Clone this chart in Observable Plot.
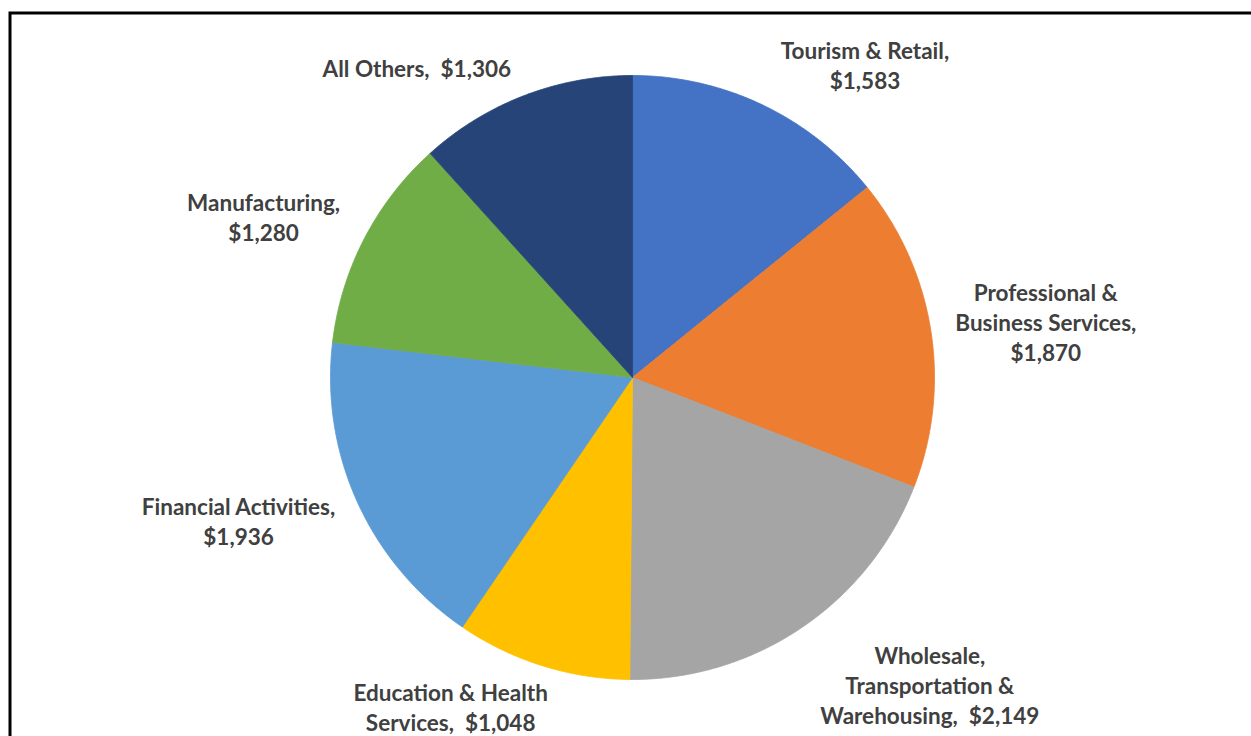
<!DOCTYPE html>
<html><head><meta charset="utf-8">
<script src="https://cdn.jsdelivr.net/npm/d3@7"></script>
<script src="https://cdn.jsdelivr.net/npm/@observablehq/plot@0.6"></script>
<style>
html,body{margin:0;padding:0;background:#fff;overflow:hidden;}
svg text{white-space:pre;}
</style></head>
<body><div id="chart"></div>
<script>
// Data
const categories = ["Tourism & Retail", "Professional & Business Services", "Wholesale, Transportation & Warehousing", "Education & Health Services", "Financial Activities", "Manufacturing", "All Others"];
const values = [1583, 1870, 2149, 1048, 1936, 1280, 1306];
const labelLines = [
  ["Tourism & Retail,", "{v}"],
  ["Professional &", "Business Services,", "{v}"],
  ["Wholesale,", "Transportation &", "Warehousing,  {v}"],
  ["Education & Health", "Services,  {v}"],
  ["Financial Activities,", "{v}"],
  ["Manufacturing,", "{v}"],
  ["All Others,  {v}"]
];
const colors = ["#4472C4", "#ED7D31", "#A5A5A5", "#FFC000", "#5B9BD5", "#70AD47", "#264478"];

// Layout (label placement: angle in degrees clockwise from top, radius factor)
const labelPlacement = [[36.8,1.285],[82.6,1.38],[136.1,1.42],[208.8,1.25],[249.8,1.39],[293.3,1.33],[325,1.245]];
const W = 1251, H = 736, CX = 632, CY = 377, R = 302;

const total = d3.sum(values);
const fmt = d3.format("$,");
const slices = [];
let cum = 0;
categories.forEach((c, i) => {
  const a0 = cum / total * 2 * Math.PI;
  cum += values[i];
  const a1 = cum / total * 2 * Math.PI;
  slices.push({name: c, x: 0, y: 0});
  const n = Math.max(2, Math.ceil((a1 - a0) / (Math.PI / 360)));
  for (let k = 0; k <= n; k++) {
    const a = a0 + (a1 - a0) * k / n;
    slices.push({name: c, x: Math.sin(a), y: Math.cos(a)});
  }
  slices.push({name: c, x: 0, y: 0});
});
const labels = categories.map((c, i) => {
  const [deg, k] = labelPlacement[i];
  const a = deg * Math.PI / 180;
  return {
    name: c,
    x: k * Math.sin(a),
    y: k * Math.cos(a),
    text: labelLines[i].map(s => s.replace("{v}", fmt(values[i]))).join("\n")
  };
});

const chart = Plot.plot({
  width: W, height: H,
  margin: 0,
  x: {domain: [-CX / R, (W - CX) / R], axis: null},
  y: {domain: [-(H - CY) / R, CY / R], axis: null},
  color: {domain: categories, range: colors},
  marks: [
    Plot.line(slices, {x: "x", y: "y", z: "name", fill: "name", stroke: "name", strokeWidth: 0.8, curve: "linear"}),
    Plot.text(labels, {x: "x", y: "y", dy: -2, text: "text", fill: "#404040", fontSize: 22.5, fontWeight: "bold", lineHeight: 1.33, fontFamily: "Lato"}),
    Plot.frame({stroke: "#000", strokeWidth: 3, insetLeft: 9.5, insetTop: 12.5, insetRight: -20, insetBottom: -20})
  ]
});
document.getElementById("chart").appendChild(chart);
</script>
</body></html>
